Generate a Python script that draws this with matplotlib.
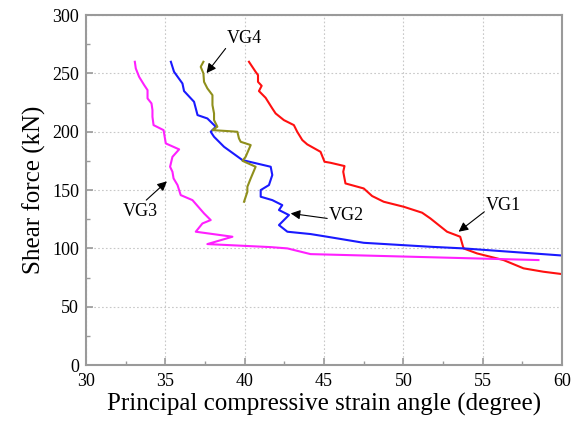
import numpy as np
import matplotlib.pyplot as plt
from matplotlib.ticker import MultipleLocator

plt.rcParams['font.family'] = ['Liberation Serif', 'DejaVu Serif']

# principal compressive strain angle (degree) vs shear force (kN)
vg1_angle = [40.27, 40.69, 40.84, 40.84, 41.07, 40.90, 41.32, 41.74, 41.95, 42.47,
             43.10, 43.31, 43.63, 43.94, 44.78, 45.03, 45.41, 46.29, 46.21, 46.35,
             47.50, 48.03, 48.76, 50.02, 51.18, 51.70, 52.75, 53.58, 53.79, 54.64,
             56.31, 57.57, 58.82, 59.98]
vg1_force = [260, 251.4, 248.6, 242.8, 239.4, 234.9, 229.1, 220, 215.7, 210,
             205.7, 200, 192.9, 189.2, 182.8, 174.3, 173.4, 170.6, 165.7, 155.7,
             151.4, 144.9, 140, 135.7, 130.6, 125.7, 114.3, 110, 100, 95.7,
             90, 82.9, 80, 78]

vg2_angle = [35.35, 35.55, 36.08, 36.18, 36.81, 37.03, 37.65, 38.18, 37.86, 38.07,
             38.70, 39.86, 41.64, 41.74, 41.53, 41.01, 41.01, 41.74, 42.37, 42.16,
             42.79, 42.16, 42.69, 44.15, 45.20, 47.50, 51.70, 53.79, 60.0]
vg2_force = [260, 251.4, 241.4, 234.9, 225.7, 214.3, 211.4, 204.3, 200, 195.7,
             187.1, 175.7, 170, 162.9, 154.3, 150, 144.3, 141.4, 137.1, 132.9,
             128.6, 120, 114.3, 112.3, 110, 104.8, 101.4, 100, 93.9]

vg3_angle = [33.08, 33.14, 33.35, 33.67, 33.88, 33.88, 34.13, 34.19, 34.19, 34.26,
             34.89, 35.03, 35.87, 35.45, 35.30, 35.45, 35.52, 35.77, 35.97, 36.71,
             37.44, 37.86, 37.34, 36.92, 39.23, 37.65, 41.64, 42.69, 44.15, 58.51]
vg3_force = [260, 254.3, 247.1, 240, 235.7, 228.6, 224.3, 218.6, 212.8, 205.7,
             201.4, 190, 184.9, 178.5, 170, 165.7, 160, 154.3, 145.7, 141.4,
             130, 124.3, 121.4, 114.3, 110, 103.7, 101.1, 100, 95.1, 90]

vg4_angle = [37.40, 37.23, 37.40, 37.44, 37.65, 37.97, 37.97, 38.07, 38.07, 38.28,
             37.97, 38.91, 39.54, 39.64, 39.75, 40.38, 40.06, 39.86, 40.69, 40.38,
             40.17, 40.17, 39.96]
vg4_force = [260, 255.7, 250, 242.8, 237.2, 231.4, 222.9, 215.7, 210, 204.3,
             201.4, 200.6, 200, 194.3, 191.4, 188.6, 178.5, 175.1, 170, 160,
             152.8, 148.5, 140]

fig = plt.figure(figsize=(5.73, 4.32), dpi=100)
ax = fig.add_axes([0.150, 0.155, 0.831, 0.810])

ax.plot(vg1_angle, vg1_force, color='#ff1010', lw=1.5)
ax.plot(vg2_angle, vg2_force, color='#1a1aff', lw=1.5)
ax.plot(vg3_angle, vg3_force, color='#ff20ff', lw=1.5)
ax.plot(vg4_angle, vg4_force, color='#8f8f1c', lw=1.5)

# labels with arrows: (text, text pos, arrow tail, arrow head)
labels = [('VG1', (56.3, 137), (55.1, 131.4), (53.48, 114.3)),
          ('VG2', (46.4, 128), (45.2, 125.7), (42.9, 130)),
          ('VG3', (33.45, 131.5), (33.8, 141.4), (35.1, 157.5)),
          ('VG4', (39.95, 280), (38.8, 271.4), (37.6, 250.3))]
arrow = dict(arrowstyle='-|>', color='black', lw=0.8, mutation_scale=14,
             shrinkA=0, shrinkB=0)
for name, txt, tail, head in labels:
    ax.text(txt[0], txt[1], name, fontsize=13, ha='center', va='center')
    ax.annotate('', xy=head, xytext=tail, arrowprops=arrow)

ax.set_xlim(30, 60)
ax.set_ylim(0, 300)
ax.xaxis.set_major_locator(MultipleLocator(5))
ax.xaxis.set_minor_locator(MultipleLocator(2.5))
ax.yaxis.set_major_locator(MultipleLocator(50))
ax.yaxis.set_minor_locator(MultipleLocator(25))
ax.grid(True, which='major', color='#c8c8c8', ls=(0, (1.5, 2)), lw=0.8)

for s in ax.spines.values():
    s.set_color('#9a9a9a')
    s.set_linewidth(1.5)
ax.tick_params(which='both', direction='in', color='#9a9a9a', labelsize=13,
               top=False, right=False)
ax.tick_params(which='major', length=5, width=1.2)
ax.tick_params(which='minor', length=3, width=1.0)
ax.tick_params(axis='x', which='major', pad=6)
ax.tick_params(axis='y', which='major', pad=5)

ax.set_xlabel('Principal compressive strain angle (degree)', fontsize=18, labelpad=2)
ax.set_ylabel('Shear force (kN)', fontsize=18, labelpad=4)

fig.savefig('out.png', dpi=100)
